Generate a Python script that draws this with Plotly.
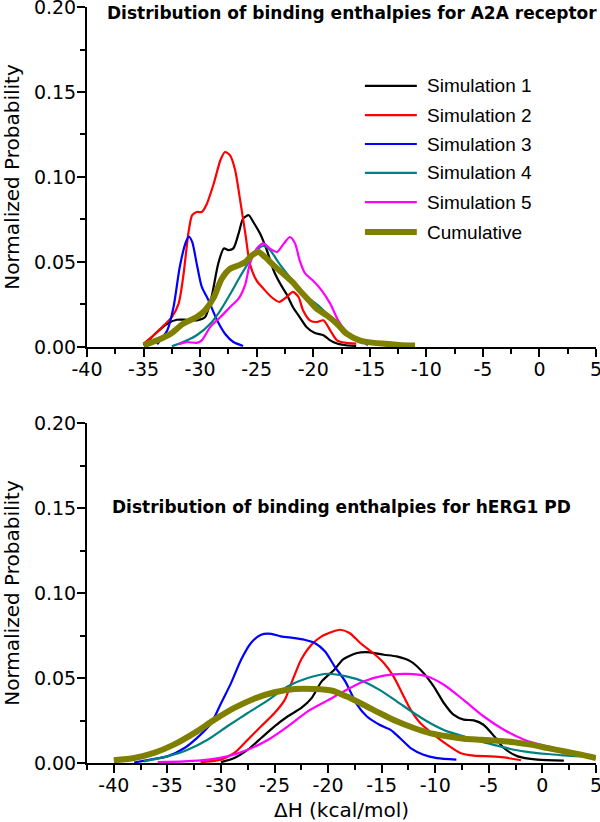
import plotly.graph_objects as go

# ---------------- data: A2A receptor (top panel) ----------------
a2a_sim1_x = [-35, -33.8, -32.9, -32.06, -31.2, -30.3, -29.56, -29.0, -28.4, -27.9, -27.5, -27.06, -26.6, -26.2, -25.7, -25.3, -24.7, -24.1, -23.5, -22.9, -22.35, -21.8, -21.2, -20.6, -19.85, -19.1, -18.5, -17.9, -17.1, -16.2]
a2a_sim1_y = [0.001, 0.0088, 0.0137, 0.016, 0.016, 0.0157, 0.0176, 0.029, 0.049, 0.058, 0.057, 0.058, 0.0667, 0.0755, 0.0775, 0.0735, 0.0667, 0.0569, 0.045, 0.037, 0.031, 0.0235, 0.0176, 0.0118, 0.0082, 0.0069, 0.0039, 0.002, 0.001, 0.0006]

a2a_sim2_x = [-35, -34.1, -33.2, -32.5, -31.9, -31.5, -31.0, -30.7, -30.3, -29.85, -29.4, -28.8, -28.2, -27.8, -27.35, -26.9, -26.5, -26.0, -25.6, -25.0, -24.4, -23.7, -23.0, -22.35, -21.8, -21.3, -20.9, -20.3, -19.7, -19.1, -18.5, -17.9, -17.1, -16.2]
a2a_sim2_y = [0.002, 0.0069, 0.0127, 0.0176, 0.0255, 0.041, 0.0686, 0.0775, 0.0794, 0.0794, 0.0843, 0.096, 0.110, 0.1147, 0.1127, 0.104, 0.088, 0.0667, 0.049, 0.039, 0.0343, 0.0294, 0.0265, 0.0294, 0.0324, 0.0294, 0.0216, 0.0157, 0.0147, 0.0157, 0.0098, 0.0039, 0.0024, 0.002]

a2a_sim3_x = [-33.8, -32.9, -32.35, -31.8, -31.3, -31.0, -30.7, -30.3, -29.85, -29.26, -28.5, -27.8, -27.06, -26.2]
a2a_sim3_y = [0.0016, 0.0098, 0.0235, 0.047, 0.061, 0.065, 0.0618, 0.049, 0.0353, 0.0275, 0.0157, 0.0078, 0.0029, 0.0006]

a2a_sim4_x = [-32.5, -31.5, -30.3, -29.1, -28.2, -27.35, -26.5, -25.6, -24.85, -24.4, -23.8, -23.0, -22.06, -21.2, -20.3, -19.4, -18.5, -17.65, -16.8, -15.9, -15.15]
a2a_sim4_y = [0.0004, 0.0029, 0.0069, 0.0137, 0.0216, 0.031, 0.041, 0.051, 0.0578, 0.0594, 0.0569, 0.049, 0.041, 0.0343, 0.0284, 0.0235, 0.0176, 0.0127, 0.0078, 0.0039, 0.001]

a2a_sim5_x = [-31.9, -31.2, -30.3, -29.85, -29.1, -28.2, -27.35, -26.6, -26.0, -25.6, -25.0, -24.4, -23.8, -23.2, -22.6, -22.06, -21.6, -21.2, -20.7, -20.0, -19.26, -18.5, -17.8, -17.06, -16.2, -15.6]
a2a_sim5_y = [0.0016, 0.0029, 0.0024, 0.0039, 0.0118, 0.0176, 0.0235, 0.0284, 0.037, 0.049, 0.0578, 0.061, 0.0578, 0.0559, 0.0608, 0.0647, 0.0608, 0.051, 0.0431, 0.039, 0.0333, 0.0255, 0.0157, 0.0088, 0.0039, 0.002]

a2a_cum_x = [-35, -33.8, -32.6, -31.5, -30.3, -29.56, -28.8, -28.1, -27.35, -26.6, -26.0, -25.4, -24.85, -24.26, -23.5, -22.65, -21.8, -21.2, -20.4, -19.7, -18.8, -17.9, -17.06, -15.9, -15.3, -13.9, -12.4, -11.0]
a2a_cum_y = [0.001, 0.0039, 0.0078, 0.0137, 0.0176, 0.0216, 0.029, 0.040, 0.046, 0.048, 0.050, 0.054, 0.0559, 0.0529, 0.048, 0.0431, 0.038, 0.0333, 0.0275, 0.0225, 0.0186, 0.0137, 0.0078, 0.0039, 0.003, 0.002, 0.0012, 0.0008]

# ---------------- data: hERG1 PD (bottom panel) ----------------
herg_sim1_x = [-30.0, -28.75, -27.5, -26.25, -25.0, -23.75, -22.5, -21.56, -20.6, -19.4, -18.6, -17.3, -16.1, -14.8, -13.6, -12.3, -11.1, -10.15, -9.2, -8.3, -7.34, -6.4, -5.5, -4.5, -3.6, -2.3, -0.47, 2.0]
herg_sim1_y = [0.0005, 0.0029, 0.0078, 0.0147, 0.0216, 0.0275, 0.0324, 0.038, 0.048, 0.055, 0.061, 0.0647, 0.0651, 0.0637, 0.0627, 0.0598, 0.053, 0.0451, 0.0353, 0.0284, 0.0255, 0.0251, 0.0225, 0.0157, 0.0088, 0.0039, 0.002, 0.0014]

herg_sim2_x = [-31.9, -30.0, -28.75, -27.5, -26.25, -25.0, -24.06, -23.3, -22.5, -21.56, -20.6, -19.6, -18.9, -18.0, -17.0, -15.8, -14.8, -13.9, -13.1, -12.3, -11.4, -10.15, -8.9, -7.66, -6.4, -4.8, -3.6, -2.0]
herg_sim2_y = [0.0005, 0.002, 0.0059, 0.0137, 0.0216, 0.0294, 0.037, 0.049, 0.061, 0.0696, 0.0745, 0.0772, 0.0784, 0.0765, 0.0706, 0.0647, 0.0588, 0.051, 0.0412, 0.0314, 0.0235, 0.0167, 0.0108, 0.0059, 0.0043, 0.0039, 0.0033, 0.0016]

herg_sim3_x = [-38.1, -36.6, -35.0, -33.4, -31.9, -30.9, -30.0, -29.06, -28.1, -27.2, -26.25, -25.3, -24.4, -23.1, -22.2, -21.25, -20.3, -19.4, -18.4, -17.3, -16.4, -15.2, -14.2, -13.3, -12.3, -11.1, -9.84, -8.03]
herg_sim3_y = [0.0003, 0.002, 0.0039, 0.0088, 0.0167, 0.0235, 0.035, 0.047, 0.061, 0.0706, 0.0755, 0.076, 0.0745, 0.0735, 0.0725, 0.0706, 0.0657, 0.0569, 0.048, 0.0343, 0.0275, 0.0225, 0.0196, 0.0147, 0.0088, 0.0049, 0.0029, 0.002]

herg_sim4_x = [-37.2, -35.0, -33.1, -31.25, -29.4, -27.5, -25.6, -23.75, -21.9, -20.0, -18.3, -16.7, -15.2, -13.6, -12.0, -10.5, -8.9, -7.34, -5.8, -4.2, -2.66, -1.1, 0.47, 2.0, 5.0]
herg_sim4_y = [0.001, 0.0039, 0.0078, 0.0137, 0.0216, 0.0294, 0.037, 0.0451, 0.050, 0.0525, 0.051, 0.048, 0.043, 0.0363, 0.0294, 0.0235, 0.0186, 0.0157, 0.0127, 0.0102, 0.0078, 0.0063, 0.0053, 0.0045, 0.0035]

herg_sim5_x = [-35.9, -33.4, -31.25, -29.4, -27.5, -25.6, -23.75, -21.9, -20.0, -18.3, -16.7, -14.8, -12.65, -10.8, -9.2, -7.34, -5.5, -3.6, -1.7, 0.16, 2.0, 5.0]
herg_sim5_y = [0.0006, 0.001, 0.002, 0.0039, 0.0078, 0.0137, 0.0216, 0.0304, 0.037, 0.043, 0.048, 0.0514, 0.0524, 0.051, 0.046, 0.037, 0.0275, 0.0196, 0.0137, 0.0102, 0.0075, 0.0039]

herg_cum_x = [-40.0, -38.1, -36.25, -34.4, -32.5, -30.6, -28.75, -26.9, -25.0, -23.1, -21.25, -19.6, -18.3, -16.7, -15.2, -13.6, -12.0, -10.5, -8.9, -7.34, -5.8, -4.2, -2.66, -1.1, 0.47, 2.0, 3.6, 5.0]
herg_cum_y = [0.0016, 0.0029, 0.0059, 0.0108, 0.0176, 0.0255, 0.0324, 0.0378, 0.0416, 0.0435, 0.0435, 0.0425, 0.0392, 0.0343, 0.0294, 0.0245, 0.0206, 0.0176, 0.0157, 0.0143, 0.0137, 0.0131, 0.0122, 0.0108, 0.0088, 0.0069, 0.0049, 0.0029]

series_names = ["Simulation 1", "Simulation 2", "Simulation 3", "Simulation 4", "Simulation 5", "Cumulative"]
series_colors = ["#000000", "#ff0000", "#0000ff", "#008080", "#ff00ff", "#808000"]
series_widths = [2.2, 2.2, 2.2, 2.2, 2.2, 6]

x_tick_vals = [-40, -35, -30, -25, -20, -15, -10, -5, 0, 5]
x_tick_text = ["-40", "-35", "-30", "-25", "-20", "-15", "-10", "-5", "0", "5"]
y_tick_vals = [0.0, 0.05, 0.10, 0.15, 0.20]
y_tick_text = ["0.00", "0.05", "0.10", "0.15", "0.20"]

titles = ["Distribution of binding enthalpies for A2A receptor",
          "Distribution of binding enthalpies for hERG1 PD"]
x_title = "ΔH (kcal/mol)"
y_title = "Normalized Probability"

top_series = [(a2a_sim1_x, a2a_sim1_y), (a2a_sim2_x, a2a_sim2_y), (a2a_sim3_x, a2a_sim3_y),
              (a2a_sim4_x, a2a_sim4_y), (a2a_sim5_x, a2a_sim5_y), (a2a_cum_x, a2a_cum_y)]
bot_series = [(herg_sim1_x, herg_sim1_y), (herg_sim2_x, herg_sim2_y), (herg_sim3_x, herg_sim3_y),
              (herg_sim4_x, herg_sim4_y), (herg_sim5_x, herg_sim5_y), (herg_cum_x, herg_cum_y)]

fig = go.Figure()
for i, (xs, ys) in enumerate(top_series):
    fig.add_trace(go.Scatter(x=xs, y=ys, mode="lines", name=series_names[i],
                             line=dict(color=series_colors[i], width=series_widths[i], shape="spline", smoothing=0.7),
                             xaxis="x", yaxis="y", showlegend=False))
for i, (xs, ys) in enumerate(bot_series):
    fig.add_trace(go.Scatter(x=xs, y=ys, mode="lines", name=series_names[i],
                             line=dict(color=series_colors[i], width=series_widths[i], shape="spline", smoothing=0.7),
                             xaxis="x2", yaxis="y2", showlegend=False))

tick_font = dict(family="DejaVu Sans", size=19, color="black")
title_font = dict(family="DejaVu Sans", size=20, color="black")

common_x = dict(showline=True, linecolor="black", linewidth=2, ticks="outside", ticklen=8, tickwidth=2,
                tickcolor="black", tickvals=x_tick_vals, ticktext=x_tick_text, tickfont=tick_font,
                showgrid=False, zeroline=False, mirror=False, automargin=False,
                ticklabeloverflow="allow", ticklabelstandoff=-4)
common_y = dict(showline=True, linecolor="black", linewidth=2, ticks="outside", ticklen=8, tickwidth=2,
                tickcolor="black", tickvals=y_tick_vals, ticktext=y_tick_text, tickfont=tick_font,
                showgrid=False, zeroline=False, range=[0, 0.2], automargin=False,
                ticklabeloverflow="allow", ticklabelstandoff=-3,
                minor=dict(ticks="outside", ticklen=5, tickwidth=2, tickcolor="black", tick0=0.025, dtick=0.05, showgrid=False),
                title=dict(text=y_title, font=title_font, standoff=10))

top_dom = [0.5503, 1.0]
bot_dom = [0.0, 0.4497]

fig.update_layout(
    width=600, height=822,
    margin=dict(l=87, r=4, t=7, b=59, autoexpand=False),
    paper_bgcolor="white", plot_bgcolor="white",
    showlegend=False,
    xaxis=dict(**common_x, range=[-40, 5], domain=[0, 1], anchor="y",
               minor=dict(ticks="outside", ticklen=5, tickwidth=2, tickcolor="black", tick0=-37.5, dtick=5, showgrid=False)),
    yaxis=dict(**common_y, domain=top_dom, anchor="x"),
    xaxis2=dict(**common_x, range=[-42.5, 5], domain=[0, 1], anchor="y2",
                minor=dict(ticks="outside", ticklen=5, tickwidth=2, tickcolor="black", tick0=-42.5, dtick=5, showgrid=False),
                title=dict(text=x_title, font=title_font, standoff=9)),
    yaxis2=dict(**common_y, domain=bot_dom, anchor="x2"),
)

# panel titles
head_font = dict(family="DejaVu Sans", size=17, color="black", weight="bold")
fig.add_annotation(text="<b>" + titles[0] + "</b>", xref="x domain", yref="y domain", x=0.035, y=0.982,
                   xanchor="left", yanchor="middle", showarrow=False, font=head_font)
fig.add_annotation(text="<b>" + titles[1] + "</b>", xref="x2 domain", yref="y2 domain", x=0.045, y=0.753,
                   xanchor="left", yanchor="middle", showarrow=False, font=head_font)

# legend (top panel)
leg_y = [0.768, 0.682, 0.597, 0.512, 0.426, 0.338]
for i, name in enumerate(series_names):
    fig.add_shape(type="line", xref="x domain", yref="y domain", x0=0.546, x1=0.648, y0=leg_y[i], y1=leg_y[i],
                  line=dict(color=series_colors[i], width=series_widths[i]))
    fig.add_annotation(text=name, xref="x domain", yref="y domain", x=0.664, y=leg_y[i], xanchor="left",
                       yanchor="middle", showarrow=False, font=dict(family="Liberation Sans", size=19, color="black"))

fig.write_html("out.html", config={"displayModeBar": False},
               post_script="document.body.style.margin='0';document.body.style.padding='0';"
                           "document.body.style.overflow='hidden';")
